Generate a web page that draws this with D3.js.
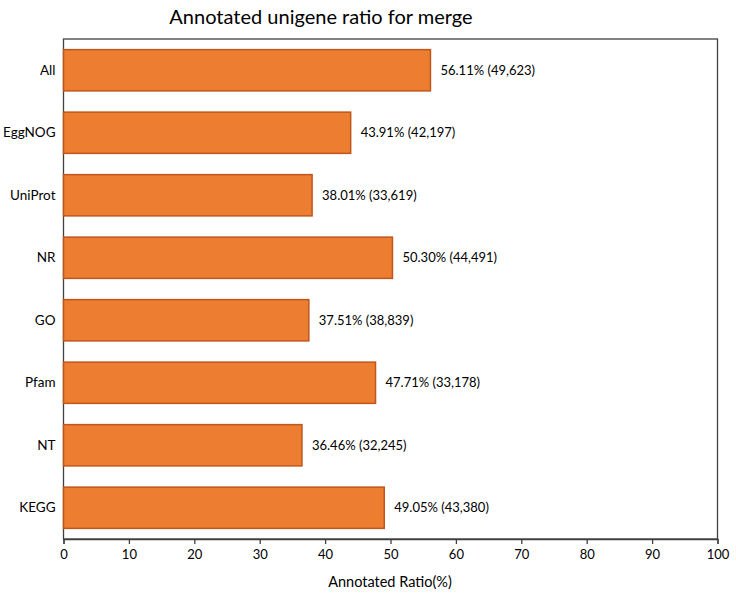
<!DOCTYPE html>
<html><head><meta charset="utf-8">
<script src="https://cdn.jsdelivr.net/npm/d3@7"></script>
<style>body{margin:0;background:#fff}svg{display:block}text{font-family:Lato,"Open Sans",sans-serif;fill:#000}</style>
</head><body>
<svg id="c" width="736" height="597"></svg>
<script>
const categories = ["All","EggNOG","UniProt","NR","GO","Pfam","NT","KEGG"];
const ratios = [56.11,43.91,38.01,50.30,37.51,47.71,36.46,49.05];
const counts = ["49,623","42,197","33,619","44,491","38,839","33,178","32,245","43,380"];
const xTicks = [0,10,20,30,40,50,60,70,80,90,100];
const title = "Annotated unigene ratio for merge";
const xLabel = "Annotated Ratio(%)";

const svg = d3.select("#c");
const m = {l:63.5, r:717.5, t:39, b:539};
const x = d3.scaleLinear().domain([0,100]).range([m.l,m.r]);
const y = d3.scaleBand().domain(categories).range([m.t,m.b]).paddingInner(0.34).paddingOuter(0.17);

svg.append("text").attr("x",321).attr("y",24).attr("text-anchor","middle")
  .style("font-size","20px").text(title);

// frame
svg.append("rect").attr("x",m.l).attr("y",m.t).attr("width",m.r-m.l).attr("height",m.b-m.t)
  .attr("fill","none").attr("stroke","#404040").attr("stroke-width",1.3);

const data = categories.map((c,i)=>({c,v:ratios[i],n:counts[i]}));
svg.selectAll("rect.bar").data(data).join("rect").attr("class","bar")
  .attr("x",x(0)).attr("y",d=>y(d.c)).attr("width",d=>x(d.v)-x(0)).attr("height",y.bandwidth())
  .attr("fill","#ED7D31").attr("stroke","#C0561A").attr("stroke-width",1.5);

svg.selectAll("text.val").data(data).join("text").attr("class","val")
  .attr("x",d=>x(d.v)+10).attr("y",d=>y(d.c)+y.bandwidth()/2).attr("dy","0.35em")
  .style("font-size","13px").text(d=>d.v.toFixed(2)+"% ("+d.n+")");

// y labels
svg.selectAll("text.cat").data(categories).join("text").attr("class","cat")
  .attr("x",m.l-8).attr("y",d=>y(d)+y.bandwidth()/2).attr("dy","0.35em").attr("text-anchor","end")
  .style("font-size","13.5px").text(d=>d);

// x axis
const ax = svg.append("g").attr("transform",`translate(0,${m.b})`)
  .call(d3.axisBottom(x).tickValues(xTicks).tickSize(5).tickPadding(6).tickFormat(d3.format("d")));
ax.select(".domain").attr("stroke","#404040").attr("stroke-width",1.3);
ax.selectAll(".tick line").attr("stroke","#404040").attr("stroke-width",1.3);
ax.selectAll(".tick text").style("font-size","13px").style("font-family","Lato,'Open Sans',sans-serif");

svg.append("text").attr("x",390).attr("y",587).attr("text-anchor","middle")
  .style("font-size","14.5px").text(xLabel);
</script>
</body></html>
